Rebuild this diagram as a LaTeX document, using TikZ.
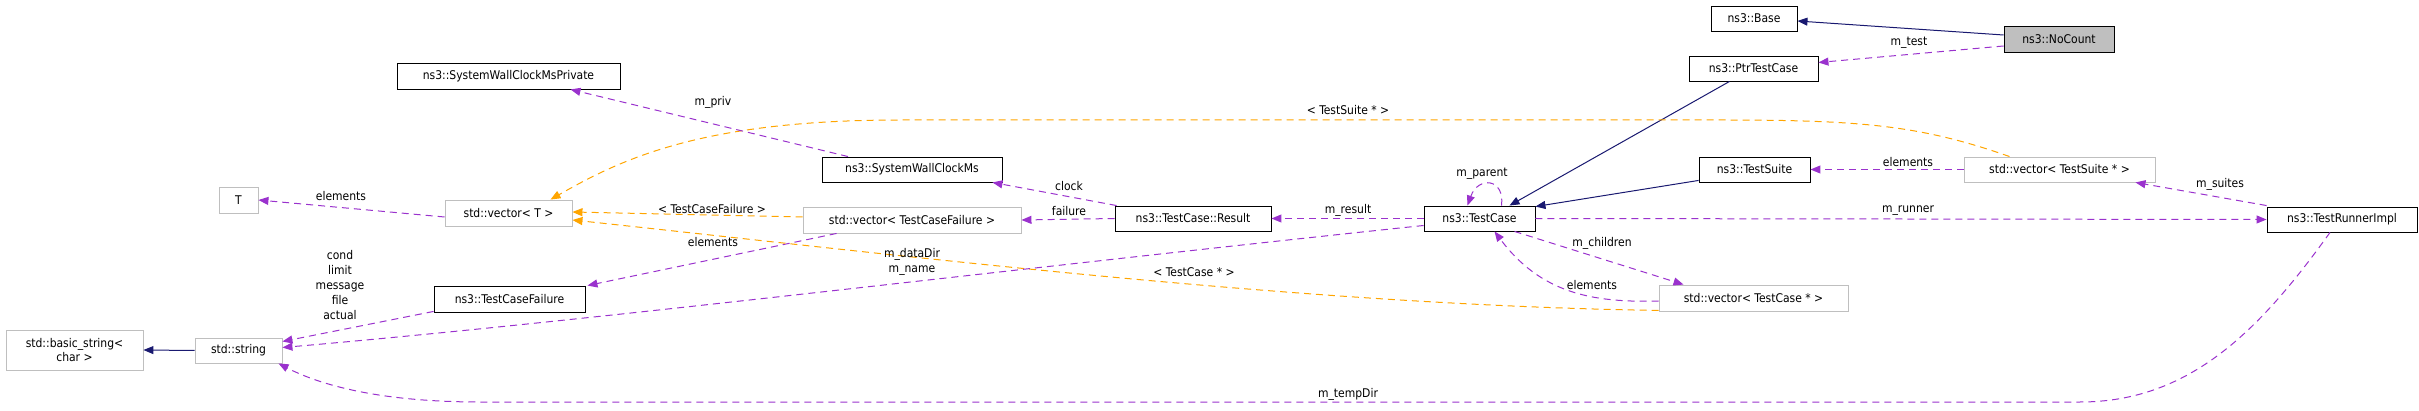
\documentclass[tikz,border=0pt]{standalone}
\usepackage{fontspec}
\setmainfont{DejaVu Sans Condensed}
\usetikzlibrary{arrows.meta}
\definecolor{pur}{HTML}{9A32CD}
\definecolor{nav}{HTML}{191970}
\definecolor{org}{HTML}{FFA500}
\definecolor{gb}{HTML}{BFBFBF}
\tikzset{
  box/.style={draw=black,line width=0.9pt,inner sep=0pt,font=\fontsize{12}{14}\selectfont},
  gbox/.style={box,draw=gb},
  tip/.style={-{Triangle[length=10pt,width=8pt]}},
  inh/.style={tip,draw=nav,line width=1pt},
  use/.style={tip,draw=pur,dashed,dash pattern=on 7pt off 5pt,line width=1pt},
  tpl/.style={tip,draw=org,dashed,dash pattern=on 7pt off 5pt,line width=1pt},
  lab/.style={font=\fontsize{12}{15}\selectfont,inner sep=0pt,align=center}
}
\begin{document}
\begin{tikzpicture}[x=1pt,y=-1pt]
\useasboundingbox (0,0) rectangle (2419,411);
\node[box,minimum width=86,minimum height=25] (base) at (1754,18.5) {ns3::Base};
\node[box,fill=gb,minimum width=110,minimum height=26] (nocount) at (2059,39) {ns3::NoCount};
\node[box,minimum width=129,minimum height=25] (ptr) at (1753.5,68.5) {ns3::PtrTestCase};
\node[box,minimum width=111,minimum height=25] (suite) at (1754.5,169.5) {ns3::TestSuite};
\node[gbox,minimum width=191,minimum height=25] (vsuite) at (2059.5,169.5) {std::vector< TestSuite * >};
\node[box,minimum width=150,minimum height=25] (runner) at (2342,219.5) {ns3::TestRunnerImpl};
\node[gbox,minimum width=189,minimum height=26] (vcase) at (1753.5,298) {std::vector< TestCase * >};
\node[box,minimum width=223,minimum height=26] (swcp) at (508.5,76) {ns3::SystemWallClockMsPrivate};
\node[gbox,minimum width=39,minimum height=26] (T) at (238.5,200) {T};
\node[gbox,minimum width=127,minimum height=26] (vT) at (508.5,213) {std::vector< T >};
\node[box,minimum width=151,minimum height=26] (tcf) at (509.5,299) {ns3::TestCaseFailure};
\node[gbox,minimum width=137,minimum height=40,align=center] (bstr) at (74.5,350) {std::basic\_string<\\char >};
\node[gbox,minimum width=87,minimum height=25] (str) at (238.5,350.5) {std::string};
\node[box,minimum width=180,minimum height=25] (swc) at (912,169.5) {ns3::SystemWallClockMs};
\node[gbox,minimum width=218,minimum height=26] (vtcf) at (912,220) {std::vector< TestCaseFailure >};
\node[box,minimum width=156,minimum height=25] (result) at (1193,218.5) {ns3::TestCase::Result};
\node[box,minimum width=111,minimum height=25] (tc) at (1479.5,218.5) {ns3::TestCase};

\draw[inh] ([yshift=4pt]nocount.west) -- ([yshift=-2.5pt]base.east);
\draw[use] ([yshift=-7pt]nocount.west) -- ([yshift=6pt]ptr.east);
\draw[inh] ([xshift=-24pt]ptr.south) -- ([xshift=30pt]tc.north);
\draw[inh] ([yshift=2pt]suite.south west) -- ([yshift=-1pt]tc.north east);
\draw[use] (vsuite.west) -- (suite.east);
\draw[tpl] ([xshift=-50pt]vsuite.north) .. controls (1920,125) and (1860,120) .. (1720,120) -- (900,120) .. controls (700,120) and (620,160) .. ([xshift=42pt]vT.north);
\draw[use] ([yshift=1pt]runner.north west) -- ([xshift=-20pt]vsuite.south east);
\draw[use] (tc.east) -- (runner.west);
\draw[use] (tc.west) -- (result.east);
\draw[use] ([xshift=22pt]tc.north) .. controls (1505,178) and (1478,176) .. ([xshift=-12pt]tc.north);
\draw[use] ([xshift=2pt]result.north west) -- ([xshift=-10pt]swc.south east);
\draw[use] (result.west) -- (vtcf.east);
\draw[use] ([xshift=-64pt]swc.north) -- ([xshift=62pt]swcp.south);
\draw[tpl] ([yshift=3pt]vtcf.west) -- ([yshift=1pt]vT.east);
\draw[use] ([xshift=34pt]vtcf.south west) -- ([xshift=2pt]tcf.north east);
\draw[tpl] ([yshift=1pt]vcase.south west) .. controls (1300,305) and (900,255) .. ([yshift=-7pt]vT.east);
\draw[use] ([xshift=35pt]tc.south) -- ([xshift=-70pt]vcase.north);
\draw[use] ([yshift=-3pt]vcase.west) .. controls (1590,303) and (1540,292) .. ([xshift=15pt]tc.south);
\draw[use] ([yshift=-7pt]tc.west) .. controls (1000,270) and (600,320) .. ([yshift=3pt]str.east);
\draw[use] ([yshift=1pt]tcf.south west) -- ([yshift=9pt]str.east);
\draw[use] ([xshift=-12pt]runner.south) .. controls (2260,330) and (2190,402) .. (2080,402) -- (480,402) .. controls (380,402) and (320,385) .. ([xshift=40pt]str.south);
\draw[inh] (str.west) -- (bstr.east);
\draw[use] ([yshift=-4pt]vT.west) -- (T.east);

\node[lab] (l1) at (1909,43) {m\_test};
\node[lab] (l2) at (1908,162) {elements};
\node[lab] (l3) at (1348,110) {< TestSuite * >};
\node[lab] (l4) at (2220,184) {m\_suites};
\node[lab] (l5) at (1908,211) {m\_runner};
\node[lab] (l6) at (1348,210) {m\_result};
\node[lab] (l7) at (1482,174) {m\_parent};
\node[lab] (l8) at (1069,186) {clock};
\node[lab] (l9) at (1069,211) {failure};
\node[lab] (l10) at (713,102) {m\_priv};
\node[lab] (l11) at (712,209) {< TestCaseFailure >};
\node[lab] (l12) at (713,242) {elements};
\node[lab] (l13) at (1194,272) {< TestCase * >};
\node[lab] (l14) at (1602,243) {m\_children};
\node[lab] (l15) at (1592,285) {elements};
\node[lab] (l16) at (912,262) {m\_dataDir\\m\_name};
\node[lab,font=\fontsize{12}{15.2}\selectfont] (l17) at (340,285) {cond\\limit\\message\\file\\actual};
\node[lab] (l18) at (1348,394) {m\_tempDir};
\node[lab] (l19) at (341,196) {elements};
\end{tikzpicture}
\end{document}
